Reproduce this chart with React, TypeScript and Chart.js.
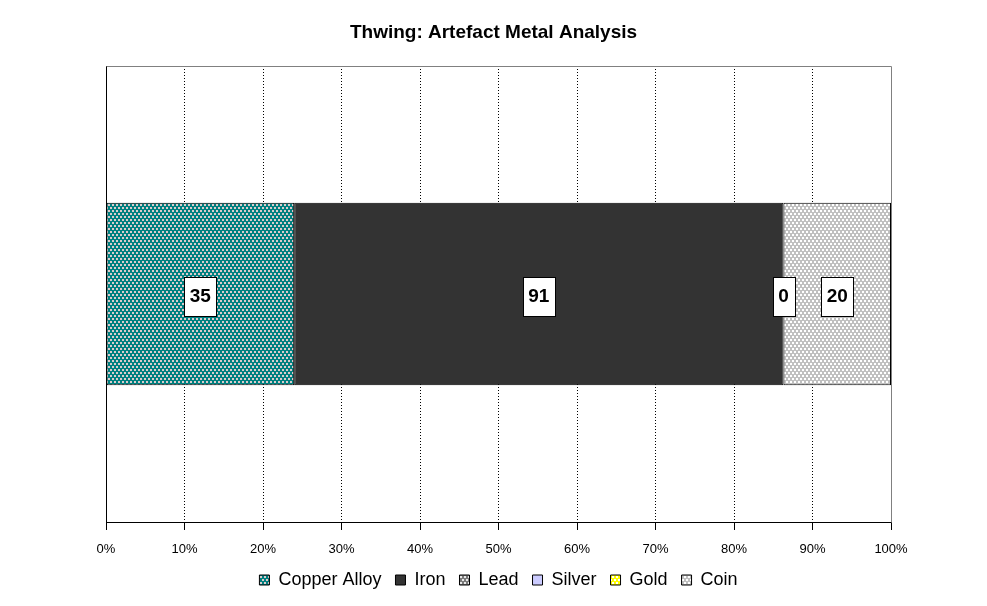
import React, { useEffect, useRef } from "react";
import { Chart, registerables } from "chart.js";

Chart.register(...registerables);

const chartTitle = "Thwing: Artefact Metal Analysis";
const categories = ["Thwing"];
const seriesNames = ["Copper Alloy", "Iron", "Lead", "Silver", "Gold", "Coin"];
const copperAlloy = [35];
const iron = [91];
const lead = [0];
const silver: (number | null)[] = [null];
const gold: (number | null)[] = [null];
const coin = [20];
const tickValues = [0, 10, 20, 30, 40, 50, 60, 70, 80, 90, 100];

const FONT = "Arial, 'Liberation Sans', sans-serif";

function makePattern(bg: string, fg: string): CanvasPattern | string {
  const c = document.createElement("canvas");
  c.width = 4;
  c.height = 6;
  const ctx = c.getContext("2d");
  if (!ctx) return bg;
  ctx.fillStyle = bg;
  ctx.fillRect(0, 0, 4, 6);
  ctx.fillStyle = fg;
  ctx.fillRect(0, 0, 2, 2);
  ctx.fillRect(2, 3, 2, 2);
  const p = ctx.createPattern(c, "repeat");
  return p || bg;
}

const titlePlugin = {
  id: "centeredTitle",
  afterDraw(chart: any) {
    const { ctx, width } = chart;
    ctx.save();
    ctx.font = `bold 19px ${FONT}`;
    ctx.fillStyle = "#000000";
    ctx.textAlign = "center";
    ctx.textBaseline = "middle";
    ctx.fillText(chartTitle, width / 2, 33);
    ctx.restore();
  },
};

const framePlugin = {
  id: "frame",
  beforeDatasetsDraw(chart: any) {
    const { ctx, chartArea } = chart;
    ctx.save();
    ctx.strokeStyle = "#808080";
    ctx.lineWidth = 1;
    ctx.beginPath();
    ctx.moveTo(Math.round(chartArea.left) + 0.5, Math.round(chartArea.top) + 0.5);
    ctx.lineTo(Math.round(chartArea.right) + 0.5, Math.round(chartArea.top) + 0.5);
    ctx.lineTo(Math.round(chartArea.right) + 0.5, Math.round(chartArea.bottom) + 0.5);
    ctx.stroke();
    ctx.restore();
  },
};

const labelPlugin = {
  id: "boxLabels",
  afterDatasetsDraw(chart: any) {
    const { ctx } = chart;
    ctx.save();
    ctx.font = `bold 19px ${FONT}`;
    ctx.textAlign = "center";
    ctx.textBaseline = "middle";
    chart.data.datasets.forEach((ds: any, i: number) => {
      const meta = chart.getDatasetMeta(i);
      if (meta.hidden) return;
      meta.data.forEach((el: any, j: number) => {
        const raw = ds.rawValues[j];
        if (raw === null || raw === undefined) return;
        const text = String(raw);
        const cx = (el.x + el.base) / 2;
        const cy = el.y + 2;
        const w = ctx.measureText(text).width + 11;
        const h = 39;
        const x0 = Math.round(cx - w / 2) + 0.5;
        const y0 = Math.round(cy - h / 2) + 0.5;
        ctx.fillStyle = "#ffffff";
        ctx.fillRect(x0, y0, Math.round(w), h);
        ctx.strokeStyle = "#000000";
        ctx.lineWidth = 1;
        ctx.strokeRect(x0, y0, Math.round(w), h);
        ctx.fillStyle = "#000000";
        ctx.fillText(text, cx, cy + 1);
      });
    });
    ctx.restore();
  },
};

export default function App() {
  const canvasRef = useRef<HTMLCanvasElement | null>(null);

  useEffect(() => {
    document.body.style.margin = "0";
    const canvas = canvasRef.current;
    if (!canvas) return;

    const seriesValues = [copperAlloy, iron, lead, silver, gold, coin];
    const totals = categories.map((_, j) =>
      seriesValues.reduce((s, arr) => s + (arr[j] ?? 0), 0)
    );
    const fills = [
      makePattern("#008080", "#dccccc"),
      "#333333",
      makePattern("#7a7a7a", "#e8e8e8"),
      "#ccccff",
      makePattern("#ffff00", "#ffffff"),
      makePattern("#c0c0c0", "#ffffff"),
    ];

    const datasets = seriesNames.map((name, i) => ({
      label: name,
      data: seriesValues[i].map((v, j) => (v === null ? null : (v / totals[j]) * 100)),
      rawValues: seriesValues[i],
      backgroundColor: fills[i],
      borderColor: "#000000",
      borderWidth: 1,
      borderSkipped: false,
      barPercentage: 0.4,
      categoryPercentage: 1,
    }));

    const chart = new Chart(canvas, {
      type: "bar",
      data: { labels: categories, datasets: datasets as any },
      plugins: [framePlugin, labelPlugin, titlePlugin],
      options: {
        animation: false,
        responsive: true,
        maintainAspectRatio: false,
        indexAxis: "y",
        layout: { padding: { left: 106, right: 96, top: 66, bottom: 7 } },
        scales: {
          x: {
            stacked: true,
            min: 0,
            max: 100,
            afterBuildTicks: (scale: any) => {
              scale.ticks = tickValues.map((v) => ({ value: v }));
            },
            afterFit: (scale: any) => {
              scale.height = 35;
            },
            ticks: {
              color: "#000000",
              font: { family: FONT, size: 13 },
              padding: 12,
              maxRotation: 0,
              callback: (v: any) => `${v}%`,
            },
            grid: {
              color: (ctx: any) =>
                ctx.index === 0 || ctx.index === tickValues.length - 1 ? "rgba(0,0,0,0)" : "#000000",
              lineWidth: 1,
              tickBorderDash: [],
              tickColor: "#000000",
              tickLength: 8,
              drawTicks: true,
            },
            border: { display: true, color: "#000000", width: 1, dash: [1, 2] },
          },
          y: {
            stacked: true,
            ticks: { display: false },
            grid: { display: false, drawTicks: false },
            border: { display: true, color: "#000000", width: 1 },
          },
        },
        plugins: {
          title: { display: false },
          legend: {
            display: true,
            position: "bottom",
            labels: {
              color: "#000000",
              font: { family: FONT, size: 18 },
              boxWidth: 10,
              boxHeight: 10,
              padding: 14,
            },
          },
          tooltip: { enabled: false },
        },
      },
    });

    return () => chart.destroy();
  }, []);

  return (
    <div style={{ position: "relative", width: 987, height: 606 }}>
      <canvas ref={canvasRef} />
    </div>
  );
}
